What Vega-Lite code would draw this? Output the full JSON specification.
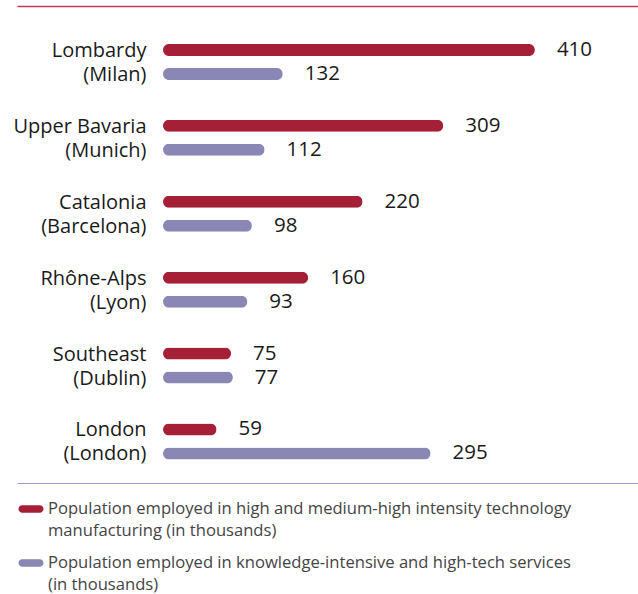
{
  "$schema": "https://vega.github.io/schema/vega-lite/v6.json",
  "width": 621,
  "height": 477,
  "padding": {"left": 12, "top": 6, "right": 0, "bottom": 0},
  "config": {"view": {"stroke": null}, "font": "Open Sans"},
  "data": {"values": [
    {"region": "Lombardy|(Milan)", "series": "Population employed in high and medium-high intensity technology|manufacturing (in thousands)", "value": 410},
    {"region": "Lombardy|(Milan)", "series": "Population employed in knowledge-intensive and high-tech services|(in thousands)", "value": 132},
    {"region": "Upper Bavaria|(Munich)", "series": "Population employed in high and medium-high intensity technology|manufacturing (in thousands)", "value": 309},
    {"region": "Upper Bavaria|(Munich)", "series": "Population employed in knowledge-intensive and high-tech services|(in thousands)", "value": 112},
    {"region": "Catalonia|(Barcelona)", "series": "Population employed in high and medium-high intensity technology|manufacturing (in thousands)", "value": 220},
    {"region": "Catalonia|(Barcelona)", "series": "Population employed in knowledge-intensive and high-tech services|(in thousands)", "value": 98},
    {"region": "Rhône-Alps|(Lyon)", "series": "Population employed in high and medium-high intensity technology|manufacturing (in thousands)", "value": 160},
    {"region": "Rhône-Alps|(Lyon)", "series": "Population employed in knowledge-intensive and high-tech services|(in thousands)", "value": 93},
    {"region": "Southeast|(Dublin)", "series": "Population employed in high and medium-high intensity technology|manufacturing (in thousands)", "value": 75},
    {"region": "Southeast|(Dublin)", "series": "Population employed in knowledge-intensive and high-tech services|(in thousands)", "value": 77},
    {"region": "London|(London)", "series": "Population employed in high and medium-high intensity technology|manufacturing (in thousands)", "value": 59},
    {"region": "London|(London)", "series": "Population employed in knowledge-intensive and high-tech services|(in thousands)", "value": 295}
  ]},
  "encoding": {
    "y": {
      "field": "region", "type": "nominal", "sort": null, "title": null,
      "scale": {"paddingInner": 0.3676, "paddingOuter": 0.326, "align": 0.646},
      "axis": {"domain": false, "ticks": false, "labelPadding": -129, "labelAlign": "right",
               "labelBaseline": "middle", "labelExpr": "split(datum.label, '|')", "labelOffset": -11,
               "labelLineHeight": 24, "labelFontSize": 20, "labelFontWeight": "normal", "labelColor": "#1a1a1a", "labelLimit": 300}
    },
    "yOffset": {"field": "series", "type": "nominal", "sort": null,
                "scale": {"paddingInner": 0.5, "paddingOuter": 0.25}},
    "x": {"field": "value", "type": "quantitative",
          "scale": {"domain": [-161, 523.7], "nice": false, "zero": false}}
  },
  "layer": [
    {
      "mark": {"type": "bar", "cornerRadius": 6},
      "encoding": {
        "x": {"field": "value", "type": "quantitative", "title": null,
              "axis": {"orient": "top", "labels": false, "ticks": false, "grid": false,
                       "domainColor": "#c23a52", "domainWidth": 1.5}},
        "color": {"field": "series", "type": "nominal", "sort": null, "title": null,
                  "scale": {"range": ["#a51f37", "#8a87b5"]},
                  "legend": {"orient": "bottom", "direction": "vertical", "labelExpr": "split(datum.label, '|')",
                             "labelFontSize": 16.6, "labelColor": "#444444", "labelLimit": 600,
                             "labelOffset": 8, "padding": 5,
                             "encode": {"labels": {"update": {"lineHeight": {"value": 22}}}},
                             "symbolType": "M-1,-0.42H1A0.42,0.42 0 0 1 1,0.42H-1A0.42,0.42 0 0 1 -1,-0.42Z",
                             "symbolSize": 311, "symbolStrokeWidth": 0, "rowPadding": 14, "offset": 12}}
      }
    },
    {
      "mark": {"type": "text", "align": "left", "baseline": "middle", "dx": 22, "fontSize": 20.5, "color": "#1a1a1a"},
      "encoding": {
        "x": {"field": "value", "type": "quantitative", "title": null,
              "axis": {"orient": "bottom", "labels": false, "ticks": false, "grid": false,
                       "domainColor": "#9d9bc8", "domainWidth": 1}},
        "text": {"field": "value", "type": "quantitative"}
      }
    }
  ],
  "resolve": {"axis": {"x": "independent"}}
}
